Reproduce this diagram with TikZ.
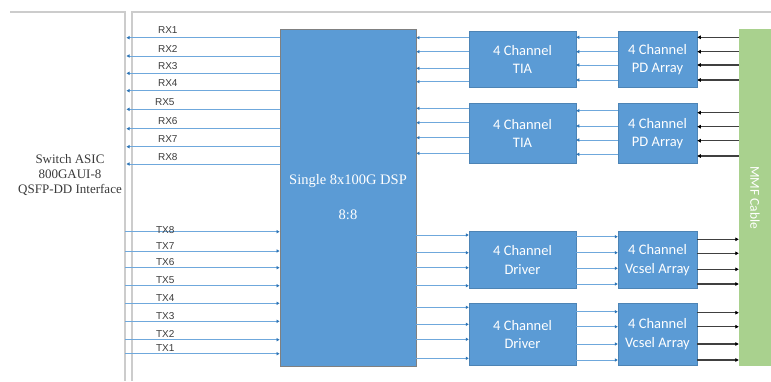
\documentclass[tikz,border=0pt]{standalone}
\usepackage{fontspec}
\setmainfont{Liberation Serif}
\newfontfamily\boxfont{Carlito}
\newfontfamily\labelfont{Liberation Sans}
\usetikzlibrary{arrows.meta}
\definecolor{boxblue}{HTML}{5B9BD5}
\definecolor{lineblue}{HTML}{6FA8DC}
\definecolor{tipblue}{HTML}{2E75B6}
\definecolor{cablegreen}{HTML}{A9D18E}
\definecolor{framegrey}{HTML}{CCCCCC}
\definecolor{fibregrey}{HTML}{404040}
\definecolor{textgrey}{HTML}{3A3A3A}
\tikzset{
	frameline/.style={draw=framegrey, line width=1.2pt},
	asictext/.style={align=center, text=textgrey, font=\fontsize{13}{14.7}\selectfont, inner sep=0pt},
	dsp/.style={fill=boxblue, draw=gray, line width=0.9pt, text=white, align=center, font=\fontsize{14.5}{17}\selectfont},
	blk/.style={fill=boxblue, draw=boxblue!85!black, line width=0.5pt, text=white, align=center, inner sep=0pt, font=\boxfont\fontsize{14.5}{18.3}\selectfont},
	cable/.style={fill=cablegreen, draw=none},
	cabletext/.style={text=white, font=\boxfont\fontsize{13.5}{15}\selectfont},
	rx/.style={draw=lineblue, line width=1pt, -{Triangle[length=3pt,width=3.2pt,color=tipblue]}},
	fibre/.style={draw=fibregrey, line width=1.2pt, -{Triangle[length=3.5pt,width=3.5pt,color=black]}},
	rxlabel/.style={pos=0.73, above, text=textgrey, font=\labelfont\fontsize{10}{12}\selectfont},
	txlabel/.style={pos=0.26, above=-2pt, text=textgrey, font=\labelfont\fontsize{10}{12}\selectfont}
}
\begin{document}
\begin{tikzpicture}[x=1pt, y=-1pt]
	\useasboundingbox (0,0) rectangle (771,381);
	% frame of the two sides
	\draw[frameline] (10,12) -- (125,12) -- (125,381);
	\draw[frameline] (132,381) -- (132,12) -- (771,12);
	\node[asictext] (asic) at (70,175) {Switch ASIC\\800GAUI-8\\QSFP-DD Interface};
	\coordinate (asicR) at (126.5,197);
	\coordinate (asicL) at (125,197);
	% blocks
	\node[dsp, minimum width=136pt, minimum height=337pt] (dsp) at (348,197.5) {Single 8x100G DSP\\[18pt]8:8};
	\node[blk, minimum width=107pt, minimum height=56pt] (tia1) at (522.5,59.7) {4 Channel\\TIA};
	\node[blk, minimum width=107pt, minimum height=60pt] (tia2) at (522.5,133.3) {4 Channel\\TIA};
	\node[blk, minimum width=79pt, minimum height=56pt] (pd1) at (657.5,59.7) {4 Channel\\PD Array};
	\node[blk, minimum width=79pt, minimum height=60pt] (pd2) at (657.5,133.3) {4 Channel\\PD Array};
	\node[blk, minimum width=107pt, minimum height=57pt] (drv1) at (522.5,260) {4 Channel\\Driver};
	\node[blk, minimum width=107pt, minimum height=62pt] (drv2) at (522.5,334.2) {4 Channel\\Driver};
	\node[blk, minimum width=79pt, minimum height=57pt] (vcsel1) at (657.5,260) {4 Channel\\Vcsel Array};
	\node[blk, minimum width=79pt, minimum height=62pt] (vcsel2) at (657.5,334.2) {4 Channel\\Vcsel Array};
	\node[cable, minimum width=32pt, minimum height=336.4pt] (mmf) at (755,197.5) {};
	\node[cabletext, rotate=-90] (mmflabel) at (mmf.center) {MMF Cable};
	% RX lanes to the switch
	\draw[rx] (dsp.west |- 0,37.7) -- (asicR |- 0,37.7) node[rxlabel] {RX1};
	\draw[rx] (dsp.west |- 0,56) -- (asicR |- 0,56) node[rxlabel] {RX2};
	\draw[rx] (dsp.west |- 0,73.3) -- (asicR |- 0,73.3) node[rxlabel] {RX3};
	\draw[rx] (dsp.west |- 0,90.7) -- (asicR |- 0,90.7) node[rxlabel] {RX4};
	\draw[rx] (dsp.west |- 0,109.3) -- (asicR |- 0,109.3) node[rxlabel, pos=0.75] {RX5};
	\draw[rx] (dsp.west |- 0,128.7) -- (asicR |- 0,128.7) node[rxlabel] {RX6};
	\draw[rx] (dsp.west |- 0,146.7) -- (asicR |- 0,146.7) node[rxlabel] {RX7};
	\draw[rx] (dsp.west |- 0,164) -- (asicR |- 0,164) node[rxlabel] {RX8};
	% TX lanes from the switch
	\draw[rx] (asicL |- 0,231.7) -- (dsp.west |- 0,231.7) node[txlabel, above=-4pt] {TX8};
	\draw[rx] (asicL |- 0,251) -- (dsp.west |- 0,251) node[txlabel] {TX7};
	\draw[rx] (asicL |- 0,267.7) -- (dsp.west |- 0,267.7) node[txlabel] {TX6};
	\draw[rx] (asicL |- 0,285.7) -- (dsp.west |- 0,285.7) node[txlabel] {TX5};
	\draw[rx] (asicL |- 0,303.3) -- (dsp.west |- 0,303.3) node[txlabel] {TX4};
	\draw[rx] (asicL |- 0,321.3) -- (dsp.west |- 0,321.3) node[txlabel] {TX3};
	\draw[rx] (asicL |- 0,339.7) -- (dsp.west |- 0,339.7) node[txlabel] {TX2};
	\draw[rx] (asicL |- 0,353.7) -- (dsp.west |- 0,353.7) node[txlabel] {TX1};
	% TIA to DSP
	\draw[rx] (tia1.west |- 0,37.7) -- (dsp.east |- 0,37.7);
	\draw[rx] (tia1.west |- 0,51.7) -- (dsp.east |- 0,51.7);
	\draw[rx] (tia1.west |- 0,68.3) -- (dsp.east |- 0,68.3);
	\draw[rx] (tia1.west |- 0,81.7) -- (dsp.east |- 0,81.7);
	\draw[rx] (tia2.west |- 0,108.3) -- (dsp.east |- 0,108.3);
	\draw[rx] (tia2.west |- 0,122.7) -- (dsp.east |- 0,122.7);
	\draw[rx] (tia2.west |- 0,137.7) -- (dsp.east |- 0,137.7);
	\draw[rx] (tia2.west |- 0,153.3) -- (dsp.east |- 0,153.3);
	% PD array to TIA
	\draw[rx] (pd1.west |- 0,37.3) -- (tia1.east |- 0,37.3);
	\draw[rx] (pd1.west |- 0,51.7) -- (tia1.east |- 0,51.7);
	\draw[rx] (pd1.west |- 0,65) -- (tia1.east |- 0,65);
	\draw[rx] (pd1.west |- 0,80) -- (tia1.east |- 0,80);
	\draw[rx] (pd2.west |- 0,110.7) -- (tia2.east |- 0,110.7);
	\draw[rx] (pd2.west |- 0,126) -- (tia2.east |- 0,126);
	\draw[rx] (pd2.west |- 0,140) -- (tia2.east |- 0,140);
	\draw[rx] (pd2.west |- 0,154.3) -- (tia2.east |- 0,154.3);
	% cable to PD array
	\draw[fibre] (mmf.west |- 0,37.3) -- (pd1.east |- 0,37.3);
	\draw[fibre] (mmf.west |- 0,51.7) -- (pd1.east |- 0,51.7);
	\draw[fibre] (mmf.west |- 0,65) -- (pd1.east |- 0,65);
	\draw[fibre] (mmf.west |- 0,80) -- (pd1.east |- 0,80);
	\draw[fibre] (mmf.west |- 0,112.7) -- (pd2.east |- 0,112.7);
	\draw[fibre] (mmf.west |- 0,126.7) -- (pd2.east |- 0,126.7);
	\draw[fibre] (mmf.west |- 0,140.7) -- (pd2.east |- 0,140.7);
	\draw[fibre] (mmf.west |- 0,156) -- (pd2.east |- 0,156);
	% DSP to driver
	\draw[rx] (dsp.east |- 0,235) -- (drv1.west |- 0,235);
	\draw[rx] (dsp.east |- 0,252.7) -- (drv1.west |- 0,252.7);
	\draw[rx] (dsp.east |- 0,267.7) -- (drv1.west |- 0,267.7);
	\draw[rx] (dsp.east |- 0,285.7) -- (drv1.west |- 0,285.7);
	\draw[rx] (dsp.east |- 0,307.3) -- (drv2.west |- 0,307.3);
	\draw[rx] (dsp.east |- 0,324.3) -- (drv2.west |- 0,324.3);
	\draw[rx] (dsp.east |- 0,339.3) -- (drv2.west |- 0,339.3);
	\draw[rx] (dsp.east |- 0,358.3) -- (drv2.west |- 0,358.3);
	% driver to vcsel array
	\draw[rx] (drv1.east |- 0,236.7) -- (vcsel1.west |- 0,236.7);
	\draw[rx] (drv1.east |- 0,252.7) -- (vcsel1.west |- 0,252.7);
	\draw[rx] (drv1.east |- 0,268.3) -- (vcsel1.west |- 0,268.3);
	\draw[rx] (drv1.east |- 0,284) -- (vcsel1.west |- 0,284);
	\draw[rx] (drv2.east |- 0,311.7) -- (vcsel2.west |- 0,311.7);
	\draw[rx] (drv2.east |- 0,326.7) -- (vcsel2.west |- 0,326.7);
	\draw[rx] (drv2.east |- 0,344) -- (vcsel2.west |- 0,344);
	\draw[rx] (drv2.east |- 0,360) -- (vcsel2.west |- 0,360);
	% vcsel array to cable
	\draw[fibre] (vcsel1.east |- 0,239.3) -- (mmf.west |- 0,239.3);
	\draw[fibre] (vcsel1.east |- 0,253.3) -- (mmf.west |- 0,253.3);
	\draw[fibre] (vcsel1.east |- 0,269.3) -- (mmf.west |- 0,269.3);
	\draw[fibre] (vcsel1.east |- 0,284) -- (mmf.west |- 0,284);
	\draw[fibre] (vcsel2.east |- 0,312.7) -- (mmf.west |- 0,312.7);
	\draw[fibre] (vcsel2.east |- 0,326.7) -- (mmf.west |- 0,326.7);
	\draw[fibre] (vcsel2.east |- 0,344) -- (mmf.west |- 0,344);
	\draw[fibre] (vcsel2.east |- 0,360) -- (mmf.west |- 0,360);
\end{tikzpicture}
\end{document}
